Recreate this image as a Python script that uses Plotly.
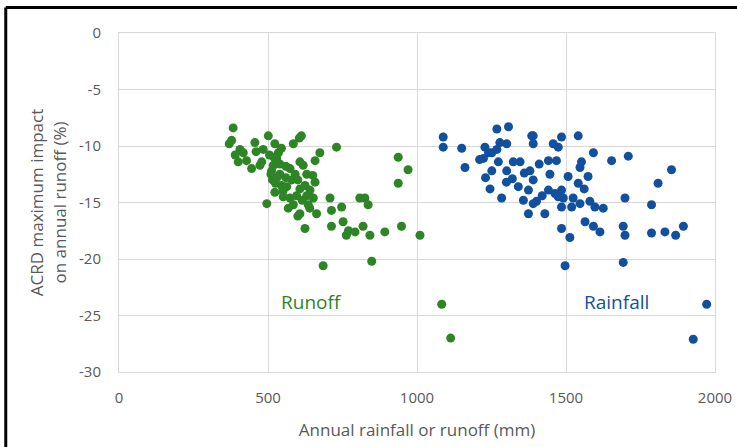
import plotly.graph_objects as go

# Runoff series (annual runoff, mm) and impact (%)
runoff_x = [383, 378, 370, 406, 417, 400, 428, 445, 456, 501, 484, 479, 473, 523, 535, 529, 518, 512, 540,
            518, 525, 540, 574, 591, 607, 585, 612, 605, 618, 630, 658, 674, 730, 523, 563, 580, 551, 574,
            596, 607, 624, 641, 658, 630, 496, 585, 607, 635, 663, 652, 624, 708, 713, 747, 713, 752, 763,
            770, 792, 819, 808, 825, 836, 842, 892, 937, 970, 937, 948, 1010, 685, 848, 1083, 1113,
            505, 510, 515, 520, 530, 545, 550, 560, 568, 600, 615, 640, 560, 545, 600, 390, 460, 650]
runoff_y = [-8.4, -9.5, -9.8, -10.3, -10.6, -11.4, -11.3, -12.0, -9.7, -9.1, -10.3, -11.4, -11.7, -9.8,
            -10.6, -11.1, -11.7, -12.2, -11.6, -12.9, -13.3, -12.5, -12.0, -12.5, -11.4, -9.8, -9.1, -9.3,
            -11.7, -12.5, -11.3, -10.6, -10.1, -14.1, -13.6, -13.0, -14.5, -14.6, -14.4, -13.8, -13.5,
            -13.9, -13.2, -14.4, -15.1, -15.2, -16.0, -15.2, -16.0, -14.6, -17.3, -14.6, -15.7, -15.4,
            -17.1, -16.7, -17.9, -17.5, -17.6, -17.1, -14.6, -14.6, -15.2, -17.9, -17.6, -11.0, -12.1,
            -13.3, -17.1, -17.9, -20.6, -20.2, -24.0, -27.0,
            -10.8, -12.5, -13.0, -11.0, -12.8, -13.5, -14.0, -12.8, -15.5, -13.0, -14.8, -15.5, -11.8,
            -10.2, -16.2, -10.8, -10.5, -12.6]

# Rainfall series (annual rainfall, mm) and impact (%)
rain_x = [1088, 1088, 1150, 1161, 1268, 1307, 1228, 1223, 1251, 1268, 1278, 1301, 1273, 1251, 1301,
          1323, 1346, 1385, 1390, 1379, 1390, 1374, 1245, 1284, 1357, 1374, 1390, 1390, 1485, 1541,
          1457, 1474, 1592, 1653, 1709, 1552, 1547, 1441, 1468, 1446, 1507, 1574, 1541, 1561, 1441,
          1463, 1485, 1474, 1491, 1524, 1547, 1519, 1485, 1401, 1429, 1580, 1597, 1625, 1698, 1787,
          1809, 1854, 1564, 1592, 1614, 1485, 1513, 1692, 1698, 1787, 1832, 1868, 1894, 1497, 1692,
          1972, 1927, 1230, 1210, 1320, 1340, 1410, 1420, 1300, 1360, 1240]
rain_y = [-9.2, -10.1, -10.2, -11.9, -8.5, -8.3, -10.1, -11.1, -10.6, -10.3, -9.7, -9.8, -11.4, -12.2,
          -12.2, -11.4, -11.4, -9.1, -9.8, -12.2, -13.0, -13.9, -13.8, -14.6, -14.8, -16.0, -15.1,
          -9.1, -9.2, -9.1, -9.8, -10.1, -10.6, -11.3, -10.9, -11.4, -11.9, -11.3, -11.3, -12.5,
          -12.7, -12.7, -13.3, -13.8, -13.9, -14.2, -13.9, -14.5, -14.6, -14.6, -15.1, -15.4, -15.4,
          -14.9, -16.0, -14.9, -15.4, -15.5, -14.6, -15.2, -13.3, -12.1, -16.7, -17.1, -17.6, -17.3,
          -18.1, -17.1, -17.9, -17.7, -17.6, -17.9, -17.1, -20.6, -20.3, -24.0, -27.1,
          -12.8, -11.2, -12.9, -13.6, -11.6, -14.4, -13.2, -12.4, -10.6]

x_ticks = [0, 500, 1000, 1500, 2000]
y_ticks = [0, -5, -10, -15, -20, -25, -30]
y_ticklabels = ["0", "-5", "-10", "-15", "-20", "-25", "-30"]

GREEN = "#2e8526"
BLUE = "#11509e"
GRID = "#d9d9d9"
TXT = "#595959"
FONT = "Open Sans, Lato, sans-serif"

fig = go.Figure()
fig.add_trace(go.Scatter(x=runoff_x, y=runoff_y, mode="markers", name="Runoff",
                         marker=dict(color=GREEN, size=9, line=dict(width=0))))
fig.add_trace(go.Scatter(x=rain_x, y=rain_y, mode="markers", name="Rainfall",
                         marker=dict(color=BLUE, size=9, line=dict(width=0))))

fig.add_annotation(x=645, y=-23.8, text="Runoff", showarrow=False,
                   font=dict(family=FONT, size=19, color=GREEN))
fig.add_annotation(x=1668, y=-23.8, text="Rainfall", showarrow=False,
                   font=dict(family=FONT, size=19, color=BLUE))

# black frame (top and left edges)
fig.add_shape(type="line", xref="paper", yref="paper", x0=-0.19, x1=1.05, y0=1.075, y1=1.075,
              line=dict(color="black", width=3))
fig.add_shape(type="line", xref="paper", yref="paper", x0=-0.19, x1=-0.19, y0=-0.25, y1=1.075,
              line=dict(color="black", width=3))

fig.update_layout(
    width=737, height=447,
    margin=dict(l=119, r=22, t=33, b=75),
    paper_bgcolor="white", plot_bgcolor="white",
    showlegend=False,
    font=dict(family=FONT, size=15, color=TXT),
    xaxis=dict(range=[0, 2000], tickvals=x_ticks, showgrid=True, gridcolor=GRID, gridwidth=1,
               zeroline=False, showline=True, linecolor=GRID, mirror=True, automargin=False,
               ticks="", ticklabelstandoff=12, tickfont=dict(size=15, color=TXT),
               title=dict(text="Annual rainfall or runoff (mm)", font=dict(size=17, color=TXT), standoff=18)),
    yaxis=dict(range=[-30, 0], tickvals=y_ticks, ticktext=y_ticklabels, showgrid=True, gridcolor=GRID,
               gridwidth=1, zeroline=False, showline=True, linecolor=GRID, mirror=True, automargin=False,
               ticks="", ticklabelstandoff=14, tickfont=dict(size=15, color=TXT),
               title=dict(text="ACRD maximum impact<br>on annual runoff (%)", font=dict(size=17, color=TXT),
                          standoff=8)),
)

fig.write_html("out.html", config={"displayModeBar": False},
               post_script="document.body.style.margin='0px';")
